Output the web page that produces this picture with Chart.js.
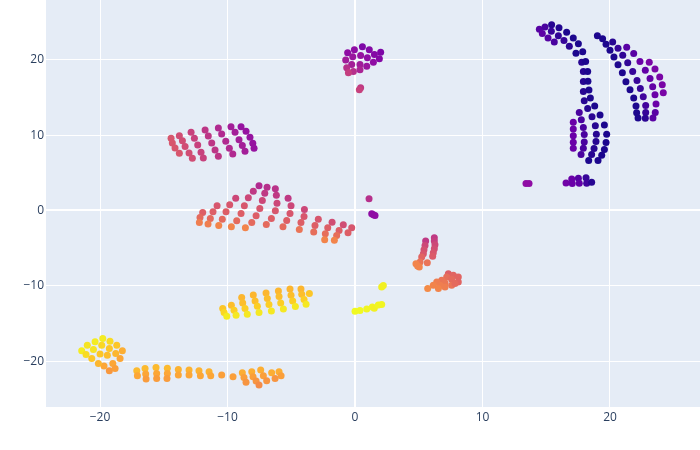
<!DOCTYPE html>
<html>
<head>
<meta charset="utf-8">
<script src="https://cdn.jsdelivr.net/npm/chart.js@4.4.0/dist/chart.umd.min.js"></script>
<style>
  body { margin: 0; background: #fff; }
  #wrap { width: 700px; height: 450px; }
</style>
</head>
<body>
<div id="wrap"><canvas id="plot" width="700" height="450"></canvas></div>
<script>
// each point: [x, y, colour value 0..1 on the plasma scale]
const blueArmLeft = [
  [14.46,24.07,0.15],[14.69,23.49,0.17],[14.90,24.37,0.12],[15.42,24.64,0.05],[15.40,23.80,0.08],
  [15.14,22.91,0.15],[15.63,22.38,0.12],[16.00,24.24,0.04],[15.95,23.18,0.07],[16.39,22.56,0.08],
  [16.60,23.66,0.03],[16.81,21.81,0.06],[17.12,22.91,0.03],[17.52,22.12,0.03],[17.33,20.88,0.03],
  [17.86,21.06,0.03],[17.78,19.69,0.05],[18.09,19.78,0.03],[17.91,18.45,0.05],[18.25,18.45,0.03],
  [17.91,17.13,0.05],[18.27,17.17,0.03],[17.91,15.80,0.05],[18.35,15.98,0.03],[17.98,14.57,0.05],
  [18.46,14.92,0.03],[18.25,13.55,0.05],[18.80,13.86,0.03],[17.59,13.02,0.12],[18.59,12.45,0.06],
  [19.22,12.67,0.03],[17.75,12.05,0.12],[17.12,11.70,0.2],[17.12,10.82,0.2],[17.12,9.93,0.2],
  [17.12,9.05,0.2],[17.12,8.25,0.2],[17.91,11.03,0.12],[17.98,10.07,0.12],[17.98,9.10,0.12],
  [17.91,8.25,0.12],[18.85,11.26,0.05],[19.56,11.35,0.03],[18.93,10.11,0.05],[19.74,10.11,0.03],
  [18.90,9.14,0.05],[19.69,9.01,0.03],[18.75,8.21,0.05],[19.56,8.08,0.03],[17.73,7.42,0.12],
  [18.56,7.42,0.05],[19.35,7.33,0.03],[18.33,6.62,0.03],[19.06,6.62,0.03]
];
const blueArmRight = [
  [19.01,23.18,0.03],[19.42,22.78,0.03],[19.69,22.08,0.03],[20.21,22.38,0.05],[20.00,21.28,0.03],
  [20.63,21.55,0.08],[21.31,21.68,0.16],[20.31,20.36,0.03],[21.00,20.62,0.07],[21.86,20.83,0.16],
  [20.63,19.34,0.03],[21.39,19.60,0.07],[22.35,19.78,0.2],[23.08,19.69,0.24],[20.97,18.28,0.03],
  [21.78,18.45,0.08],[22.77,18.63,0.18],[23.53,18.77,0.24],[21.25,17.09,0.03],[22.12,17.26,0.08],
  [23.14,17.52,0.18],[23.90,17.71,0.24],[21.57,16.03,0.03],[22.38,16.20,0.08],[23.35,16.42,0.18],
  [24.10,16.69,0.24],[21.86,14.92,0.03],[22.61,15.10,0.1],[23.53,15.36,0.2],[24.18,15.63,0.24],
  [22.04,13.86,0.03],[22.80,13.95,0.1],[23.61,14.13,0.2],[22.09,12.98,0.03],[22.80,13.02,0.08],
  [23.55,13.02,0.16],[22.20,12.28,0.03],[22.77,12.23,0.06],[23.37,12.28,0.16]
];
const blueBase = [
  [13.41,3.58,0.3],[13.65,3.58,0.3],[16.55,3.66,0.22],[17.00,4.19,0.2],[17.04,3.58,0.2],
  [17.52,4.28,0.15],[17.59,3.62,0.18],[18.12,4.33,0.08],[18.17,3.62,0.1],[18.56,3.75,0.05]
];
const purpleTop = [
  [-0.58,20.93,0.3],[-0.05,21.32,0.3],[0.58,21.72,0.25],[1.12,21.32,0.27],[1.52,20.71,0.27],
  [2.01,21.02,0.25],[1.91,20.13,0.27],[1.44,19.69,0.3],[0.97,20.26,0.3],[0.44,20.57,0.32],
  [-0.18,20.40,0.33],[-0.73,19.96,0.35],[-0.26,19.38,0.36],[0.39,19.38,0.35],[0.92,19.16,0.33],
  [-0.65,18.94,0.42],[-0.13,18.45,0.42],[-0.52,18.28,0.47],[0.39,18.68,0.38],[0.44,16.29,0.45],
  [0.34,16.03,0.48]
];
const magentaLeft = [
  [-14.43,9.58,0.55],[-14.33,8.96,0.55],[-14.12,8.30,0.55],[-13.78,7.59,0.55],[-13.78,9.93,0.52],
  [-13.54,9.27,0.52],[-13.33,8.48,0.52],[-13.02,7.64,0.52],[-12.76,6.93,0.52],[-12.86,10.37,0.48],
  [-12.60,9.58,0.48],[-12.34,8.70,0.48],[-12.08,7.72,0.48],[-11.90,6.98,0.48],[-11.76,10.69,0.44],
  [-11.51,9.89,0.44],[-11.24,8.96,0.44],[-10.98,8.04,0.44],[-10.72,7.19,0.44],[-10.72,10.95,0.4],
  [-10.46,10.16,0.4],[-10.14,9.18,0.4],[-9.86,8.25,0.4],[-9.59,7.51,0.4],[-9.73,11.13,0.36],
  [-9.41,10.37,0.36],[-9.10,9.40,0.36],[-8.84,8.61,0.36],[-8.63,7.85,0.36],[-8.94,11.13,0.32],
  [-8.55,10.50,0.32],[-8.24,9.71,0.32],[-8.02,8.91,0.32],[-7.92,8.25,0.32]
];
const redCenter = [
  [-7.53,3.27,0.4],[-6.90,3.09,0.42],[-6.25,2.87,0.43],[-7.98,2.56,0.45],[-7.08,2.29,0.45],
  [-6.17,2.03,0.45],[-5.25,1.63,0.45],[-9.36,1.63,0.5],[-8.37,1.68,0.5],[-7.27,1.32,0.5],
  [-6.12,0.97,0.5],[-5.02,0.62,0.5],[-10.82,0.62,0.55],[-9.83,0.75,0.55],[-8.68,0.62,0.55],
  [-7.47,0.26,0.55],[-6.25,-0.04,0.55],[-5.10,-0.40,0.55],[-3.97,0.13,0.5],[-11.95,-0.26,0.58],
  [-11.14,-0.18,0.58],[-10.12,-0.18,0.58],[-8.94,-0.40,0.58],[-7.76,-0.71,0.58],[-6.56,-1.06,0.58],
  [-5.36,-1.32,0.58],[-4.00,-0.79,0.55],[-2.88,-1.15,0.55],[-1.80,-1.55,0.52],[-0.92,-1.90,0.52],
  [-0.26,-2.29,0.55],[-12.16,-0.93,0.62],[-11.35,-1.06,0.62],[-10.41,-1.15,0.62],[-9.28,-1.37,0.62],
  [-8.10,-1.59,0.62],[-6.96,-1.85,0.62],[-5.65,-2.16,0.62],[-4.24,-1.59,0.58],[-3.14,-1.99,0.58],
  [-2.14,-2.29,0.58],[-1.25,-2.65,0.58],[-0.55,-2.95,0.58],[-12.21,-1.59,0.68],[-11.53,-1.81,0.68],
  [-10.69,-1.99,0.7],[-9.70,-2.16,0.7],[-8.60,-2.29,0.7],[-4.37,-2.52,0.65],[-3.24,-2.87,0.63],
  [-2.33,-3.09,0.63],[-1.44,-3.31,0.63],[-2.38,-3.88,0.7],[-1.62,-3.97,0.7]
];
const redSmall = [
  [6.22,-3.62,0.45],[6.22,-4.06,0.47],[5.54,-4.06,0.45],[6.27,-4.55,0.5],[5.49,-4.64,0.5],
  [6.22,-5.08,0.52],[5.41,-5.21,0.53],[6.14,-5.61,0.55],[5.36,-5.74,0.55],[6.09,-6.09,0.57],
  [5.23,-6.18,0.6],[5.67,-6.93,0.65],[5.10,-6.84,0.65],[4.78,-7.07,0.7],[4.91,-7.38,0.7],
  [5.04,-7.51,0.7],
  [7.32,-8.39,0.58],[7.71,-8.61,0.6],[8.10,-8.83,0.6],[7.19,-8.83,0.63],[6.80,-9.27,0.65],
  [7.58,-9.14,0.62],[8.10,-9.49,0.6],[6.41,-9.49,0.68],[7.06,-9.62,0.66],[7.58,-9.93,0.65],
  [6.67,-9.93,0.68],[6.14,-9.93,0.7],[5.70,-10.37,0.72],[6.54,-10.37,0.7],[7.06,-10.16,0.68],
  [7.84,-9.71,0.62]
];
const yellowCenter = [
  [-10.38,-13.02,0.88],[-10.27,-13.55,0.92],[-10.06,-14.04,0.97],[-9.70,-12.58,0.86],[-9.49,-13.25,0.9],
  [-9.33,-13.91,0.96],[-8.89,-11.57,0.84],[-8.81,-12.28,0.86],[-8.63,-13.02,0.9],[-8.45,-13.77,0.96],
  [-7.98,-11.22,0.84],[-7.84,-12.01,0.86],[-7.66,-12.72,0.9],[-7.53,-13.55,0.96],[-6.98,-10.95,0.84],
  [-6.88,-11.70,0.86],[-6.75,-12.49,0.9],[-6.56,-13.34,0.96],[-6.01,-10.69,0.84],[-5.96,-11.43,0.86],
  [-5.83,-12.28,0.9],[-5.62,-13.07,0.96],[-5.10,-10.42,0.84],[-5.02,-11.26,0.86],[-4.89,-12.01,0.9],
  [-4.68,-12.76,0.96],[-4.24,-10.42,0.84],[-4.18,-11.13,0.86],[-4.00,-11.83,0.9],[-3.84,-12.45,0.96],
  [-3.58,-11.03,0.88]
];
const yellowLeft = [
  [-21.00,-17.88,0.95],[-20.39,-17.44,0.97],[-19.79,-16.99,0.97],[-19.22,-17.35,0.93],[-18.69,-17.88,0.88],
  [-18.25,-18.63,0.82],[-21.44,-18.63,0.97],[-20.52,-18.45,0.95],[-19.87,-17.88,0.92],[-19.27,-18.32,0.88],
  [-18.77,-18.98,0.84],[-21.10,-19.11,0.93],[-20.00,-19.07,0.88],[-19.43,-19.21,0.86],[-18.43,-19.65,0.8],
  [-20.65,-19.65,0.88],[-19.69,-20.66,0.8],[-19.00,-20.31,0.8],[-19.27,-21.28,0.76],[-18.82,-20.97,0.78],
  [-20.13,-20.31,0.84]
];
const orangeBottom = [
  [-17.12,-21.28,0.85],[-17.07,-21.94,0.8],[-16.47,-20.97,0.85],[-16.42,-21.72,0.8],[-16.39,-22.38,0.77],
  [-15.61,-20.83,0.85],[-15.56,-21.63,0.8],[-15.56,-22.29,0.77],[-14.72,-20.93,0.85],[-14.72,-21.63,0.8],
  [-14.75,-22.29,0.77],[-13.86,-21.10,0.83],[-13.86,-21.85,0.8],[-13.02,-21.19,0.83],[-13.02,-21.85,0.8],
  [-12.24,-21.28,0.83],[-12.13,-21.94,0.8],[-11.45,-21.41,0.83],[-11.32,-21.94,0.8],[-10.46,-21.85,0.78],
  [-9.57,-22.07,0.78],[-8.84,-21.54,0.82],[-8.71,-22.16,0.78],[-8.55,-22.82,0.75],[-8.10,-21.41,0.82],
  [-8.00,-22.07,0.78],[-7.76,-22.65,0.75],[-7.53,-23.18,0.72],[-7.40,-21.19,0.82],[-7.19,-21.94,0.78],
  [-6.93,-22.61,0.75],[-6.54,-21.54,0.82],[-6.27,-22.29,0.75],[-5.96,-21.41,0.82],[-5.80,-21.94,0.78]
];
const strays = [
  [1.10,1.55,0.42],[1.31,-0.44,0.3],[1.44,-0.57,0.3],[1.57,-0.66,0.3],
  [2.09,-10.16,0.98],[2.22,-9.97,0.98],[0.00,-13.38,1.0],[0.39,-13.29,1.0],[0.92,-13.07,0.99],
  [1.36,-12.80,0.99],[1.51,-12.98,0.98],[1.83,-12.54,0.99],[2.09,-12.49,0.99]
];
const xTicks = [-20, -10, 0, 10, 20];
const yTicks = [-20, -10, 0, 10, 20];

const allPoints = [].concat(blueArmLeft, blueArmRight, blueBase, purpleTop, magentaLeft,
  redCenter, redSmall, yellowCenter, yellowLeft, orangeBottom, strays);

// plasma colour scale
const plasmaStops = ['#0d0887','#41049d','#6a00a8','#8f0da4','#b12a90','#cc4778',
  '#e16462','#f2844b','#fca636','#fcce25','#f0f921'];
function hexRgb(h) {
  return [parseInt(h.slice(1,3),16), parseInt(h.slice(3,5),16), parseInt(h.slice(5,7),16)];
}
function plasma(t) {
  t = Math.max(0, Math.min(1, t));
  const pos = t * (plasmaStops.length - 1);
  const i = Math.min(Math.floor(pos), plasmaStops.length - 2);
  const f = pos - i;
  const a = hexRgb(plasmaStops[i]), b = hexRgb(plasmaStops[i+1]);
  const c = a.map((v, k) => Math.round(v + (b[k] - v) * f));
  return 'rgb(' + c.join(',') + ')';
}

const plotBg = {
  id: 'plotBg',
  beforeDraw(chart) {
    const a = chart.chartArea, ctx = chart.ctx;
    ctx.save();
    ctx.fillStyle = '#e5ecf6';
    ctx.fillRect(a.left, a.top, a.right - a.left, a.bottom - a.top);
    ctx.restore();
  }
};

const tickFont = { family: 'Open Sans', size: 12 };
const minus = v => String(v).replace('-', '\u2212');
// drop the half-label padding chart.js reserves at the ends of each axis
function noEndPadding(s) {
  s.paddingTop = 0; s.paddingBottom = 0; s.paddingLeft = 0; s.paddingRight = 0;
}

new Chart(document.getElementById('plot'), {
  type: 'scatter',
  data: {
    datasets: [{
      data: allPoints.map(p => ({ x: p[0], y: p[1], c: p[2] })),
      backgroundColor: ctx => plasma(ctx.raw ? ctx.raw.c : 0),
      borderWidth: 0,
      pointRadius: 3.5,
      pointHoverRadius: 3.5
    }]
  },
  options: {
    responsive: false,
    animation: false,
    layout: { padding: 0, autoPadding: false },
    plugins: { legend: { display: false }, tooltip: { enabled: false } },
    scales: {
      x: {
        type: 'linear',
        min: -24.24, max: 27.06,
        afterBuildTicks: s => { s.ticks = xTicks.map(v => ({ value: v })); },
        afterFit: s => { s.height = 43; noEndPadding(s); },
        grid: { color: '#fff', lineWidth: c => c.tick && c.tick.value === 0 ? 2 : 1, drawTicks: false },
        border: { display: false },
        ticks: { color: '#2a3f5f', font: tickFont, padding: 3, callback: minus }
      },
      y: {
        type: 'linear',
        min: -26.09, max: 27.94,
        afterBuildTicks: s => { s.ticks = yTicks.map(v => ({ value: v })); },
        afterFit: s => { s.width = 46; noEndPadding(s); },
        grid: { color: '#fff', lineWidth: c => c.tick && c.tick.value === 0 ? 2 : 1, drawTicks: false },
        border: { display: false },
        ticks: { color: '#2a3f5f', font: tickFont, padding: 2, callback: minus }
      }
    }
  },
  plugins: [plotBg]
});
</script>
</body>
</html>
